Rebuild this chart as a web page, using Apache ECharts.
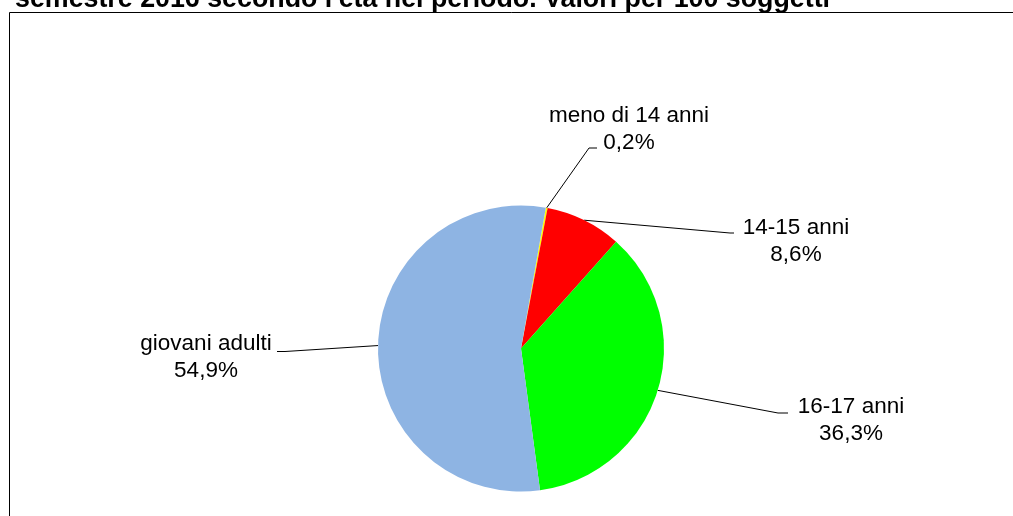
<!DOCTYPE html>
<html>
<head>
<meta charset="utf-8">
<title>Età nel periodo</title>
<script src="https://cdn.jsdelivr.net/npm/echarts@6/dist/echarts.min.js"></script>
<style>
  html, body { margin: 0; padding: 0; background: #fff; }
  #myChart { width: 1013px; height: 516px; }
</style>
</head>
<body>
<div id="myChart"></div>
<script>
var titleText = "semestre 2016 secondo l'età nel periodo. Valori per 100 soggetti";
var categories = ["meno di 14 anni", "14-15 anni", "16-17 anni", "giovani adulti"];
var values = [0.2, 8.6, 36.3, 54.9];
var colors = ["#FFFF00", "#FF0000", "#00FF00", "#8EB4E3"];

// centro delle etichette e punti della linea guida (gomito, fine)
var labelPos = [[629, 129.5], [796, 241], [851, 420], [206, 357.5]];
var lineElbow = [[589, 148], [730, 233], [778, 413], [285, 351.5]];
var lineEnd = [[597, 148], [734, 233], [788, 413], [277, 351.5]];

var myChart = echarts.init(document.getElementById("myChart"));

var pieData = categories.map(function (name, i) {
  return { name: name, value: values[i], itemStyle: { color: colors[i] } };
});

var option = {
  backgroundColor: "#fff",
  animation: false,
  title: {
    text: titleText,
    left: 15,
    top: -14,
    padding: 0,
    textStyle: {
      fontFamily: "Liberation Sans",
      fontSize: 26.8,
      fontWeight: "bold",
      color: "#000",
    },
  },
  graphic: [
    {
      type: "rect",
      shape: { x: 9.5, y: 12.5, width: 1010, height: 510 },
      style: { fill: null, stroke: "#000", lineWidth: 1 },
      silent: true,
    },
  ],
  series: [
    {
      type: "pie",
      center: [521, 348.5],
      radius: 143,
      startAngle: 80,
      clockwise: true,
      minAngle: 0,
      avoidLabelOverlap: false,
      data: pieData,
      itemStyle: { borderWidth: 0 },
      label: {
        show: true,
        position: "outside",
        fontFamily: "Liberation Sans",
        fontSize: 22.5,
        lineHeight: 27,
        color: "#000",
        formatter: function (p) {
          return p.name + "\n" + p.value.toFixed(1).replace(".", ",") + "%";
        },
      },
      labelLine: {
        show: true,
        smooth: false,
        lineStyle: { color: "#000", width: 1 },
      },
      labelLayout: function (params) {
        var i = params.dataIndex;
        var pts = params.labelLinePoints;
        var start = pts ? [pts[0][0], pts[0][1]] : lineElbow[i];
        return {
          x: labelPos[i][0],
          y: labelPos[i][1],
          align: "center",
          verticalAlign: "middle",
          labelLinePoints: [start, lineElbow[i], lineEnd[i]],
        };
      },
      emphasis: { disabled: true },
    },
  ],
};

myChart.setOption(option);
</script>
</body>
</html>
